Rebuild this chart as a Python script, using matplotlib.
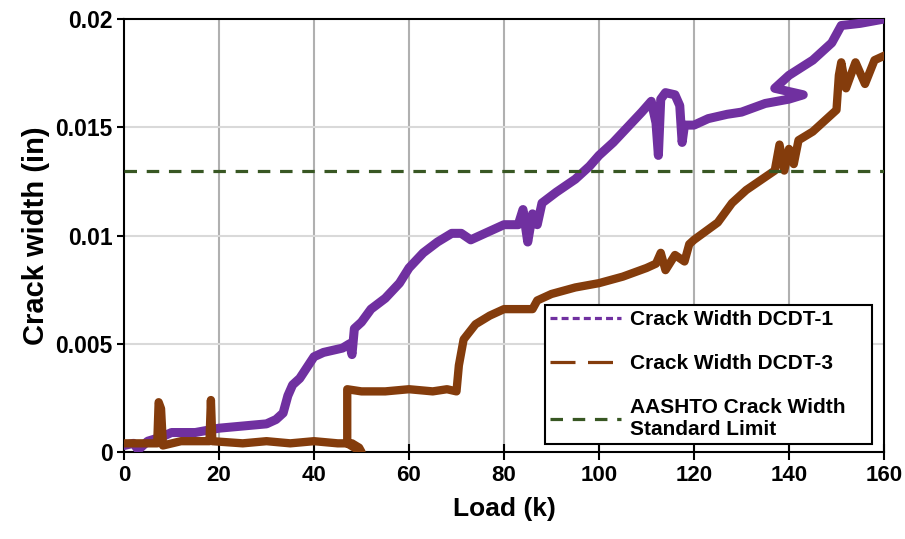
import matplotlib
matplotlib.use("Agg")
import matplotlib.pyplot as plt
from matplotlib.lines import Line2D

plt.rcParams['font.family'] = ['Liberation Sans', 'DejaVu Sans']
plt.rcParams['font.weight'] = 'bold'
plt.rcParams['lines.scale_dashes'] = False

# Crack Width DCDT-1 (purple)
dcdt1_load = [0, 2, 3, 5, 8, 10, 15, 20, 25, 30, 32, 33.5, 34.5, 35.5, 37, 40, 42,
              46, 47.5, 48, 48.5, 50, 52, 55, 58, 60, 63, 66, 69, 71, 73, 76, 80,
              83, 84, 85, 86, 87, 88, 91, 95, 98, 100, 103, 106, 109, 111, 112,
              112.5, 113, 114, 116, 117, 117.5, 118, 120, 123, 127, 130, 135, 140,
              143, 137, 140, 145, 149, 151, 155, 160]
dcdt1_width = [0.0003, 0.0004, 0.0001, 0.0005, 0.0007, 0.0009, 0.0009, 0.0011, 0.0012,
               0.0013, 0.0015, 0.0018, 0.0026, 0.0031, 0.0034, 0.0044, 0.0046,
               0.0048, 0.0050, 0.0045, 0.0057, 0.0060, 0.0066, 0.0071, 0.0078, 0.0085,
               0.0092, 0.0097, 0.0101, 0.0101, 0.0098, 0.0101, 0.0105,
               0.0105, 0.0112, 0.0097, 0.0110, 0.0105, 0.0115, 0.0120, 0.0126, 0.0132,
               0.0137, 0.0143, 0.0150, 0.0157, 0.0162, 0.0152,
               0.0137, 0.0163, 0.0166, 0.0165, 0.0160, 0.0143, 0.0151, 0.0151, 0.0154,
               0.0156, 0.0157, 0.0161, 0.0163,
               0.0165, 0.0168, 0.0174, 0.0181, 0.0189, 0.0197, 0.0198, 0.0200]

# Crack Width DCDT-3 (brown)
dcdt3_load = [0, 5, 7, 7.3, 7.8, 8.2, 12, 18, 18.3, 18.6, 25, 30, 35, 40, 45, 48,
              49.5, 50, 47, 47, 50, 55, 60, 65, 68, 70, 70.5, 71.5, 74, 77, 80, 83,
              86, 87, 90, 95, 100, 105, 110, 112, 113, 114, 116, 118, 119, 120, 125,
              128, 131, 135, 137, 138, 139, 140, 141, 142, 145, 148, 150, 150.5,
              151, 152, 154, 156, 158, 160]
dcdt3_width = [0.0004, 0.0004, 0.0004, 0.0023, 0.0020, 0.0003, 0.0005, 0.0005, 0.0024,
               0.0005, 0.0004, 0.0005, 0.0004, 0.0005, 0.0004, 0.0004,
               0.0002, 0.0000, 0.0004, 0.0029, 0.0028, 0.0028, 0.0029, 0.0028, 0.0029,
               0.0028, 0.0040, 0.0052, 0.0059, 0.0063, 0.0066, 0.0066,
               0.0066, 0.0070, 0.0073, 0.0076, 0.0078, 0.0081, 0.0085, 0.0087, 0.0092,
               0.0084, 0.0091, 0.0088, 0.0096, 0.0098, 0.0106,
               0.0115, 0.0121, 0.0127, 0.0130, 0.0142, 0.0130, 0.0140, 0.0133, 0.0144,
               0.0148, 0.0154, 0.0158, 0.0174,
               0.0180, 0.0168, 0.0180, 0.0170, 0.0181, 0.0183]

aashto_limit = 0.013

x_ticks = [0, 20, 40, 60, 80, 100, 120, 140, 160]
y_ticks = [0, 0.005, 0.01, 0.015, 0.02]
y_tick_labels = ['0', '0.005', '0.01', '0.015', '0.02']

purple = '#7030A0'
brown = '#843C0C'
green = '#385723'

fig = plt.figure(figsize=(9.05, 5.39), dpi=100)
ax = fig.add_axes([0.137, 0.1614, 0.8398, 0.8033])

# Grid: vertical darker, horizontal lighter
for xv in x_ticks[1:-1]:
    ax.axvline(xv, color='#b0b0b0', linewidth=1.5, zorder=0)
for yv in y_ticks[1:-1]:
    ax.axhline(yv, color='#d9d9d9', linewidth=1.5, zorder=0)

ax.plot(dcdt1_load, dcdt1_width, color=purple, linewidth=6.5,
        solid_joinstyle='round', zorder=3)
ax.plot(dcdt3_load, dcdt3_width, color=brown, linewidth=6,
        solid_joinstyle='round', zorder=3)
ax.axhline(aashto_limit, color=green, linewidth=2.3, dashes=(9, 7), zorder=4)

ax.set_xlim(0, 160)
ax.set_ylim(0, 0.02)
ax.set_xticks(x_ticks)
ax.set_yticks(y_ticks)
ax.set_yticklabels(y_tick_labels)

for sp in ax.spines.values():
    sp.set_linewidth(1.5)
    sp.set_color('black')

ax.tick_params(axis='x', direction='inout', length=12, width=1.5,
               labelsize=16, pad=3)
ax.tick_params(axis='y', direction='out', length=5, width=1.5,
               labelsize=16.5, pad=3)

ax.set_xlabel('Load (k)', fontsize=19, fontweight='bold', labelpad=8)
ax.set_ylabel('Crack width (in)', fontsize=21, fontweight='bold', labelpad=4)

handles = [
    Line2D([], [], color=purple, linewidth=2.3, dashes=(5, 3)),
    Line2D([], [], color=brown, linewidth=2.3, dashes=(18, 9)),
    Line2D([], [], color=green, linewidth=2.3, dashes=(9, 7)),
]
labels = ['Crack Width DCDT-1', 'Crack Width DCDT-3',
          'AASHTO Crack Width\nStandard Limit']
leg = ax.legend(handles, labels, loc='upper left',
                bbox_to_anchor=(0.554, 0.34, 0.43, 0.0), mode='expand',
                fontsize=15, frameon=True, fancybox=False, framealpha=1,
                edgecolor='black', handlelength=3.4, handletextpad=0.45,
                labelspacing=1.2, borderpad=0.25, borderaxespad=0)
leg.get_frame().set_linewidth(1.5)
leg.set_zorder(5)

fig.savefig('out.png', dpi=100)
